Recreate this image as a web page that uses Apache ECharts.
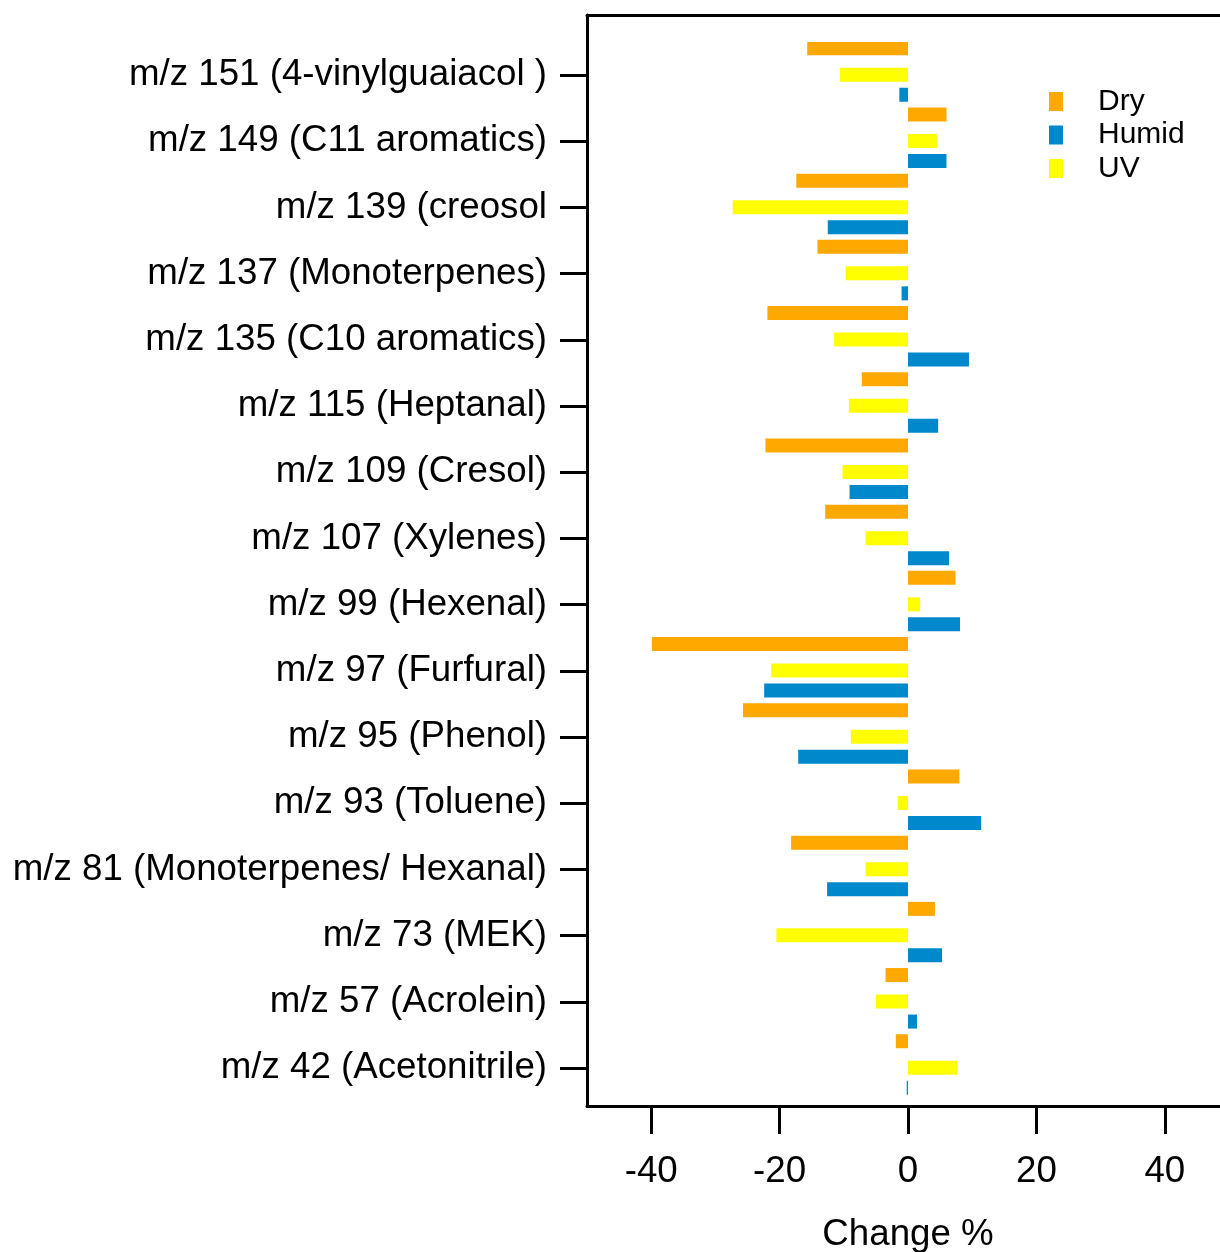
<!DOCTYPE html>
<html>
<head>
<meta charset="utf-8">
<title>Change %</title>
<script src="https://cdn.jsdelivr.net/npm/echarts@6/dist/echarts.min.js"></script>
<style>
  html, body { margin: 0; padding: 0; background: #fff; overflow: hidden; }
  #main { width: 1220px; height: 1252px; }
</style>
</head>
<body>
<div id="main"></div>
<script>
// categories, top to bottom
var categories = [
  'm/z 151 (4-vinylguaiacol )',
  'm/z 149 (C11 aromatics)',
  'm/z 139 (creosol',
  'm/z 137 (Monoterpenes)',
  'm/z 135 (C10 aromatics)',
  'm/z 115 (Heptanal)',
  'm/z 109 (Cresol)',
  'm/z 107 (Xylenes)',
  'm/z 99 (Hexenal)',
  'm/z 97 (Furfural)',
  'm/z 95 (Phenol)',
  'm/z 93 (Toluene)',
  'm/z 81 (Monoterpenes/ Hexanal)',
  'm/z 73 (MEK)',
  'm/z 57 (Acrolein)',
  'm/z 42 (Acetonitrile)'
];
var dryValues = [-15.7, 6.0, -17.4, -14.1, -21.9, -7.2, -22.2, -12.9, 7.4, -39.9, -25.7, 8.0, -18.2, 4.2, -3.5, -1.9];
var uvValues = [-10.6, 4.5, -27.3, -9.7, -11.5, -9.2, -10.2, -6.6, 1.9, -21.3, -8.9, -1.6, -6.6, -20.5, -5.0, 7.7];
var humidValues = [-1.35, 6.0, -12.5, -1.0, 9.5, 4.7, -9.1, 6.4, 8.1, -22.4, -17.1, 11.4, -12.6, 5.3, 1.4, -0.2];
var xTicks = [-40, -20, 0, 20, 40];
var xMin = -50;
var xMax = 48.6;

var FONT = '"Liberation Sans", Arial, sans-serif';
var BLACK = '#000';
var SIZE = 36.7;

var chart = echarts.init(document.getElementById('main'));
chart.setOption(getOption());

function realBar(name, color, values) {
  return {
    name: name,
    type: 'bar',
    xAxisIndex: 2,
    yAxisIndex: 1,
    barWidth: 14,
    barGap: '42.86%',
    itemStyle: { color: color },
    data: values
  };
}

// empty series that only take up room, so Dry sits a bit further from UV
function spacer(name, width) {
  return {
    name: name,
    type: 'bar',
    xAxisIndex: 2,
    yAxisIndex: 1,
    barWidth: width,
    barGap: '42.86%',
    silent: true,
    data: []
  };
}

function getOption() {
  return {
    animation: false,
    backgroundColor: '#fff',
    textStyle: { fontFamily: FONT },
    legend: {
      data: ['Dry', 'Humid', 'UV'],
      orient: 'vertical',
      left: 1049,
      top: 86.5,
      padding: 0,
      icon: 'rect',
      itemWidth: 14,
      itemHeight: 19,
      itemGap: 3.5,
      textStyle: {
        fontFamily: FONT,
        fontSize: 30,
        lineHeight: 30,
        color: BLACK,
        padding: [0, 0, 0, 30]
      }
    },
    grid: [
      // frame
      { left: 587, right: 0, top: 15, height: 1091, outerBoundsMode: 'none' },
      // bars
      { left: 587, right: 0, top: 41.9, height: 1059.2, outerBoundsMode: 'none' }
    ],
    xAxis: [
      {
        gridIndex: 0,
        type: 'value',
        min: xMin,
        max: xMax,
        position: 'bottom',
        name: 'Change %',
        nameLocation: 'middle',
        nameGap: 110,
        nameTextStyle: { fontFamily: FONT, fontSize: SIZE, color: BLACK, padding: [0, 0, 0, 9] },
        axisLine: { show: true, onZero: false, lineStyle: { color: BLACK, width: 3 } },
        axisTick: { show: true, length: 28, customValues: xTicks, lineStyle: { color: BLACK, width: 3 } },
        axisLabel: { fontFamily: FONT, fontSize: SIZE, color: BLACK, margin: 47, customValues: xTicks },
        splitLine: { show: false }
      },
      {
        gridIndex: 0,
        type: 'value',
        min: xMin,
        max: xMax,
        position: 'top',
        axisLine: { show: true, onZero: false, lineStyle: { color: BLACK, width: 3 } },
        axisTick: { show: false },
        axisLabel: { show: false },
        splitLine: { show: false }
      },
      {
        gridIndex: 1,
        type: 'value',
        min: xMin,
        max: xMax,
        show: false,
        splitLine: { show: false }
      }
    ],
    yAxis: [
      {
        gridIndex: 0,
        type: 'value',
        min: 0,
        max: 1,
        axisLine: { show: true, onZero: false, lineStyle: { color: BLACK, width: 3 } },
        axisTick: { show: false },
        axisLabel: { show: false },
        splitLine: { show: false }
      },
      {
        gridIndex: 1,
        type: 'category',
        inverse: true,
        data: categories,
        axisLine: { show: false, onZero: false },
        axisTick: { show: true, alignWithLabel: true, length: 27, lineStyle: { color: BLACK, width: 3 } },
        axisLabel: { fontFamily: FONT, fontSize: SIZE, color: BLACK, margin: 40 },
        splitLine: { show: false }
      }
    ],
    series: [
      realBar('Dry', '#FFA800', dryValues),
      spacer('gapA', 4.55),
      realBar('UV', '#FFFF00', uvValues),
      realBar('Humid', '#0088CC', humidValues),
      spacer('gapB', 0.5)
    ]
  };
}
</script>
</body>
</html>
